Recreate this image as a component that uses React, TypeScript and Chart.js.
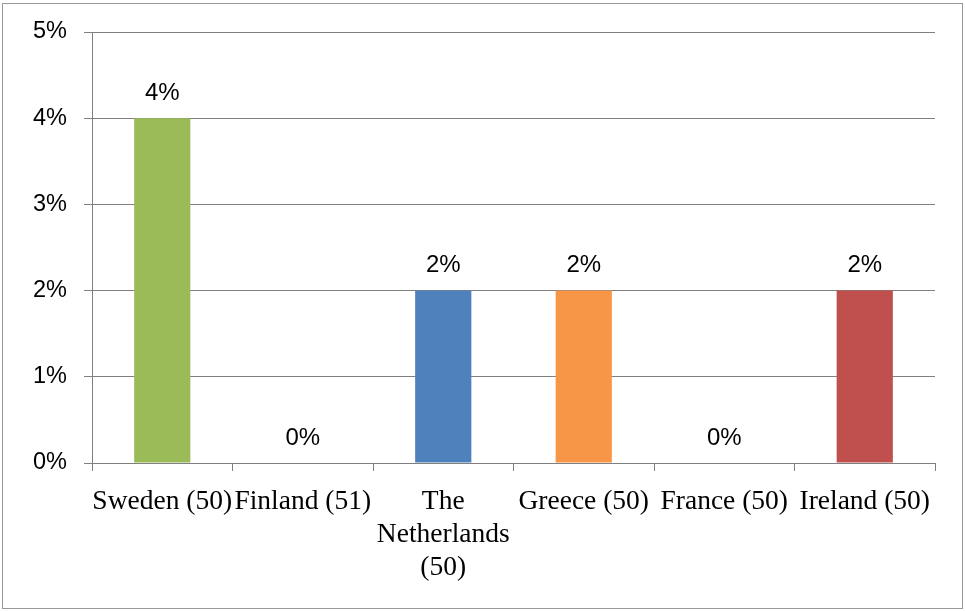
import React, { useEffect, useRef } from 'react';
import { Chart, registerables } from 'chart.js';
Chart.register(...registerables);

const categories: (string | string[])[] = [
  'Sweden (50)',
  'Finland (51)',
  ['The', 'Netherlands', '(50)'],
  'Greece (50)',
  'France (50)',
  'Ireland (50)',
];
const values = [4, 0, 2, 2, 0, 2];
const barColors = ['#9BBB59', '#9BBB59', '#4F81BD', '#F79646', '#F79646', '#C0504D'];
const yMin = 0;
const yMax = 5;
const yStep = 1;

const dataLabelPlugin = {
  id: 'dataLabels',
  afterDatasetsDraw(chart: any) {
    const ctx = chart.ctx;
    const meta = chart.getDatasetMeta(0);
    ctx.save();
    ctx.fillStyle = '#000';
    ctx.font = '24px "Liberation Sans", Arial, sans-serif';
    ctx.textAlign = 'center';
    ctx.textBaseline = 'middle';
    meta.data.forEach((el: any, i: number) => {
      ctx.fillText(values[i] + '%', el.x, el.y - 25);
    });
    ctx.restore();
  },
};

export default function App() {
  const ref = useRef<HTMLCanvasElement>(null);
  useEffect(() => {
    document.body.style.margin = '0';
    const chart = new Chart(ref.current!, {
      type: 'bar',
      data: {
        labels: categories,
        datasets: [
          {
            data: values,
            backgroundColor: barColors,
            barPercentage: 0.4,
            categoryPercentage: 1,
          },
        ],
      },
      options: {
        responsive: false,
        animation: false,
        layout: { padding: { top: 32, right: 30, left: 0, bottom: 0 } },
        plugins: { legend: { display: false }, tooltip: { enabled: false } },
        scales: {
          x: {
            afterFit: (s: any) => { s.height = 148; },
            grid: { drawOnChartArea: false, color: '#808080', tickLength: 8, offset: true },
            border: { color: '#808080' },
            ticks: {
              autoSkip: false,
              maxRotation: 0,
              minRotation: 0,
              color: '#000',
              padding: 14,
              font: { family: '"Liberation Serif", "Times New Roman", serif', size: 27.5, lineHeight: 1.2 },
            },
          },
          y: {
            min: yMin,
            max: yMax,
            afterFit: (s: any) => { s.width = 92; },
            grid: { color: '#808080', tickLength: 8 },
            border: { color: '#808080' },
            ticks: {
              stepSize: yStep,
              color: '#000',
              padding: 17,
              callback: (v: any) => v + '%',
              font: { family: '"Liberation Sans", Arial, sans-serif', size: 23.5 },
            },
          },
        },
      },
      plugins: [dataLabelPlugin],
    });
    return () => chart.destroy();
  }, []);
  return (
    <div style={{ position: 'relative', width: 965, height: 611, background: '#fff' }}>
      <canvas ref={ref} width={965} height={611} style={{ display: 'block' }} />
      <div
        style={{
          position: 'absolute',
          left: 2,
          top: 3,
          width: 961,
          height: 606,
          border: '1px solid #999',
          boxSizing: 'border-box',
          pointerEvents: 'none',
        }}
      />
    </div>
  );
}
